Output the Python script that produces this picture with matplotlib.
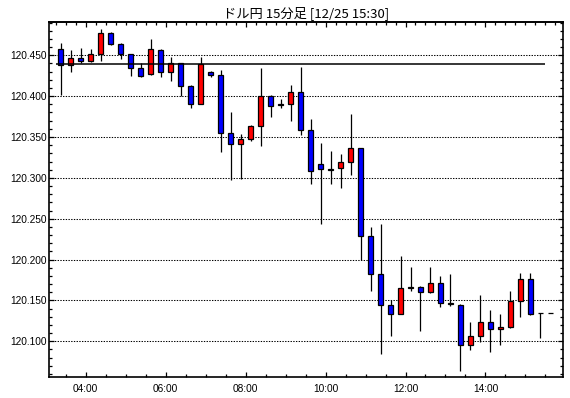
import numpy as np
import pandas as pd
import matplotlib
matplotlib.use("Agg")
import matplotlib.pyplot as plt
import matplotlib.dates as mdates
from matplotlib.ticker import MultipleLocator, FormatStrFormatter

# USD/JPY 15 minute candles, 12/25 03:15 - 15:30
times = pd.date_range("2015-12-25 03:15", "2015-12-25 15:30", freq="15min")

opens = [120.458, 120.438, 120.447, 120.443, 120.451, 120.477, 120.464, 120.451, 120.434, 120.427,
         120.457, 120.430, 120.440, 120.413, 120.391, 120.429, 120.426, 120.355, 120.342, 120.348,
         120.363, 120.400, 120.390, 120.390, 120.405, 120.359, 120.317, 120.311, 120.312, 120.319,
         120.336, 120.229, 120.182, 120.144, 120.133, 120.165, 120.167, 120.160, 120.171, 120.147,
         120.145, 120.096, 120.107, 120.123, 120.115, 120.118, 120.149, 120.176, 120.135, 120.135]
highs = [120.465, 120.456, 120.459, 120.458, 120.482, 120.478, 120.465, 120.452, 120.440, 120.470,
         120.458, 120.448, 120.441, 120.414, 120.448, 120.431, 120.432, 120.380, 120.354, 120.365,
         120.435, 120.401, 120.396, 120.414, 120.436, 120.372, 120.343, 120.333, 120.329, 120.378,
         120.337, 120.240, 120.244, 120.151, 120.204, 120.191, 120.168, 120.191, 120.180, 120.182,
         120.146, 120.124, 120.157, 120.138, 120.133, 120.161, 120.184, 120.184, 120.135, 120.135]
lows = [120.401, 120.429, 120.441, 120.442, 120.443, 120.462, 120.446, 120.425, 120.423, 120.426,
        120.424, 120.419, 120.400, 120.385, 120.390, 120.424, 120.332, 120.297, 120.298, 120.345,
        120.339, 120.375, 120.386, 120.369, 120.353, 120.292, 120.243, 120.292, 120.287, 120.303,
        120.200, 120.162, 120.084, 120.106, 120.133, 120.161, 120.112, 120.159, 120.142, 120.143,
        120.064, 120.089, 120.099, 120.087, 120.095, 120.116, 120.130, 120.132, 120.104, 120.135]
closes = [120.438, 120.447, 120.443, 120.452, 120.477, 120.464, 120.451, 120.434, 120.425, 120.458,
          120.430, 120.440, 120.413, 120.391, 120.439, 120.426, 120.355, 120.342, 120.348, 120.363,
          120.400, 120.388, 120.389, 120.405, 120.359, 120.309, 120.311, 120.310, 120.319, 120.336,
          120.229, 120.182, 120.144, 120.133, 120.165, 120.167, 120.160, 120.171, 120.147, 120.146,
          120.096, 120.107, 120.123, 120.115, 120.118, 120.149, 120.176, 120.133, 120.134, 120.135]

ref_price = 120.439
title = "ドル円 15分足 [12/25 15:30]"

plt.rcParams['font.family'] = ['Liberation Sans', 'DejaVu Sans']

fig = plt.figure(figsize=(5.7, 3.98), dpi=100)
ax = fig.add_axes([0.0865, 0.052, 0.9012, 0.892])

o = np.array(opens)
h = np.array(highs)
l = np.array(lows)
c = np.array(closes)
x = mdates.date2num(times + pd.Timedelta(minutes=7.5))
w = 8.5 / (24 * 60)

# red = up, blue = down
cols = np.where(c > o, "#ff0000", np.where(c < o, "#0000ff", "black"))

ax.vlines(x, l, h, color="black", lw=0.9, zorder=2)
ax.bar(x, np.abs(c - o), width=w, bottom=np.minimum(o, c), color=cols,
       edgecolor="black", linewidth=0.9, zorder=3)

ax.hlines(ref_price, mdates.date2num(times[0]), mdates.date2num(times[-1]),
          color="black", lw=1.1, zorder=4)

ax.set_xlim(mdates.date2num(pd.Timestamp("2015-12-25 03:05:40")),
            mdates.date2num(pd.Timestamp("2015-12-25 15:56:15")))
ax.set_ylim(120.0559, 120.4904)

ax.yaxis.set_major_locator(MultipleLocator(0.05))
ax.yaxis.set_minor_locator(MultipleLocator(0.01))
ax.yaxis.set_major_formatter(FormatStrFormatter("%.3f"))
ax.xaxis.set_major_locator(mdates.HourLocator(byhour=range(0, 24, 2)))
ax.xaxis.set_minor_locator(mdates.MinuteLocator(byminute=[0, 30]))
ax.xaxis.set_major_formatter(mdates.DateFormatter("%H:%M"))

ax.grid(axis="y", which="major", color="black", lw=0.75, linestyle=(0, (1.3, 1.3)))
ax.set_axisbelow(True)

ax.tick_params(axis="both", which="both", direction="in", colors="black",
               labelsize=7.3, pad=2)
ax.tick_params(axis="y", which="both", right=True)
ax.tick_params(which="major", length=3.6, width=0.9)
ax.tick_params(which="minor", length=2.1, width=0.9)
ax.tick_params(axis="x", pad=5)

top = ax.secondary_xaxis("top")
top.xaxis.set_major_locator(mdates.HourLocator(byhour=range(0, 24, 2)))
top.xaxis.set_minor_locator(mdates.MinuteLocator(byminute=[0, 15, 30, 45]))
top.tick_params(which="both", direction="in", labeltop=False)
top.tick_params(which="major", length=3.6, width=0.9)
top.tick_params(which="minor", length=2.1, width=0.9)
top.spines["top"].set_linewidth(1.2)

for s in ax.spines.values():
    s.set_linewidth(1.2)

fig.text(306 / 570, 1 - 13 / 398, title, ha="center", va="center", fontsize=9.5,
         family=["Noto Sans CJK JP", "DejaVu Sans"])

fig.savefig("out.png", dpi=100)
